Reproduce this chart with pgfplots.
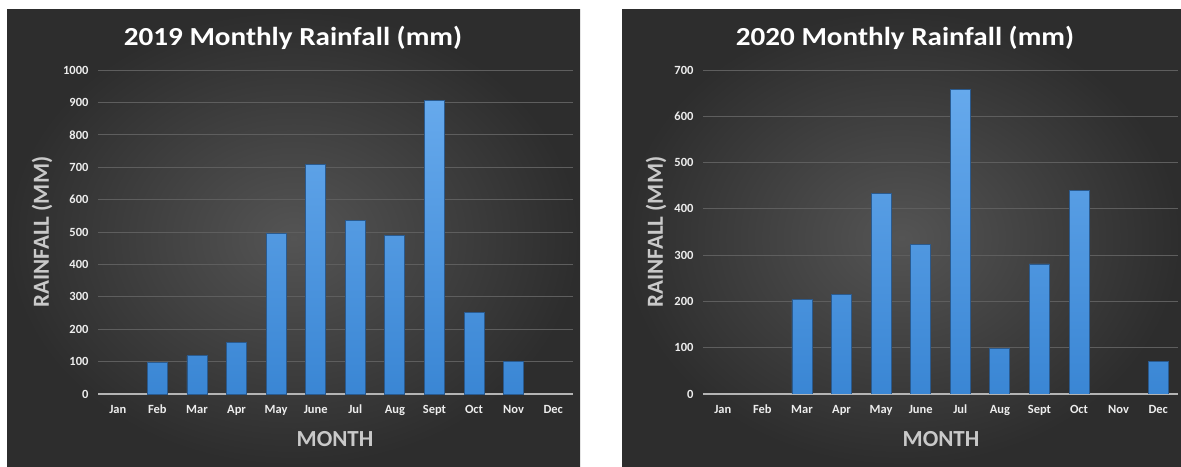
\documentclass[border=0pt]{standalone}
\usepackage{fontspec}
\setmainfont{Carlito}
\newfontfamily\titlefont[FakeStretch=1.12]{Carlito}
\usepackage{pgfplots}
\pgfplotsset{compat=1.18}

\definecolor{bgin}{HTML}{545454}
\definecolor{bgout}{HTML}{2D2D2D}
\definecolor{bartop}{HTML}{66A9EC}
\definecolor{barbot}{HTML}{3A86D4}
\definecolor{baredge}{HTML}{2A5A8E}
\definecolor{gridc}{HTML}{5E5E5E}
\definecolor{zeroc}{HTML}{B4B4B4}
\definecolor{labc}{HTML}{C9C9C9}
\definecolor{ticc}{HTML}{EDEDED}

\pgfplotsset{
  rainstyle/.style={
    scale only axis, width=475pt, height=324pt,
    anchor=south west,
    xmin=-0.5, xmax=11.5, ymin=0,
    enlargelimits=false,
    xtick={0,...,11},
    xticklabels={Jan,Feb,Mar,Apr,May,June,Jul,Aug,Sept,Oct,Nov,Dec},
    ymajorgrids, grid style={gridc, line width=0.8pt},
    axis line style={draw=none},
    tick style={draw=none},
    /pgf/number format/assume math mode=true,
    /pgf/number format/1000 sep={},
    ticklabel style={font=\fontsize{12.5}{14}\selectfont\bfseries, text=ticc},
    xticklabel style={yshift=-3pt, text height=9pt, text depth=3pt},
    yticklabel style={xshift=-6pt},
    extra y ticks={0}, extra y tick labels={},
    extra y tick style={grid style={zeroc, line width=1.2pt}},
    ybar, bar width=20pt,
  },
  rainbar/.style={top color=bartop, bottom color=barbot, draw=baredge, line width=0.8pt},
}

\begin{document}
\begin{tikzpicture}
  % page and the two dark chart panels
  \fill[white] (0,0) rectangle (1181pt,466pt);
  \shade[inner color=bgin, outer color=bgout] (7pt,0pt) rectangle (580pt,456pt);
  \shade[inner color=bgin, outer color=bgout] (622pt,0pt) rectangle (1181pt,456pt);

  % 2019 (months with no rainfall are left out)
  \begin{axis}[rainstyle, at={(98pt,72pt)}, ymax=1000, ytick={0,100,...,1000}]
    \addplot[rainbar] coordinates {
      (1,96) (2,118) (3,160) (4,495) (5,708) (6,537)
      (7,488) (8,905) (9,253) (10,100)
    };
  \end{axis}

  % 2020
  \begin{axis}[rainstyle, at={(703pt,72pt)}, ymax=700, ytick={0,100,...,700}]
    \addplot[rainbar] coordinates {
      (2,204) (3,216) (4,434) (5,324) (6,658)
      (7,99) (8,281) (9,440) (11,70)
    };
  \end{axis}

  % titles and axis names
  \node[font=\titlefont\fontsize{26}{30}\selectfont\bfseries, text=white] at (293pt,428pt) {2019 Monthly Rainfall (mm)};
  \node[font=\titlefont\fontsize{26}{30}\selectfont\bfseries, text=white] at (905pt,428pt) {2020 Monthly Rainfall (mm)};
  \node[font=\fontsize{23}{27}\selectfont\bfseries, text=labc, rotate=90] at (42pt,234pt) {RAINFALL (MM)};
  \node[font=\fontsize{23}{27}\selectfont\bfseries, text=labc, rotate=90] at (656pt,234pt) {RAINFALL (MM)};
  \node[font=\fontsize{23}{27}\selectfont\bfseries, text=labc] at (335pt,27pt) {MONTH};
  \node[font=\fontsize{23}{27}\selectfont\bfseries, text=labc] at (941pt,27pt) {MONTH};

  \pgfresetboundingbox
  \path[use as bounding box] (0,0) rectangle (1181pt,466pt);
\end{tikzpicture}
\end{document}
